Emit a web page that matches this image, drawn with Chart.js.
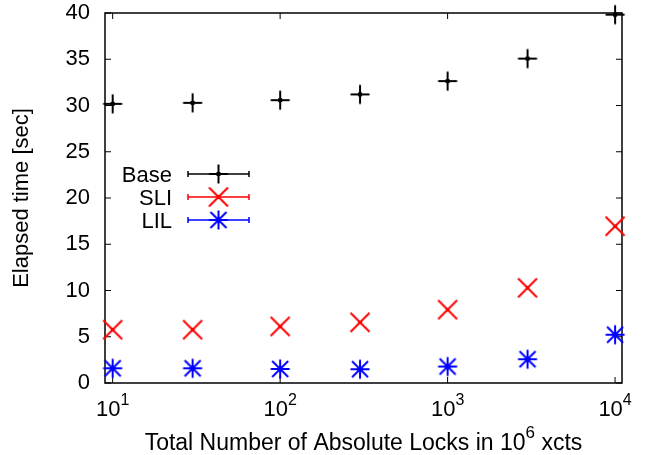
<!DOCTYPE html>
<html>
<head>
<meta charset="utf-8">
<script src="https://cdn.jsdelivr.net/npm/chart.js@4/dist/chart.umd.min.js"></script>
<style>
  html, body { margin: 0; padding: 0; background: #fff; }
  canvas { display: block; }
</style>
</head>
<body>
<canvas id="locks" width="645" height="455"></canvas>
<script>
// elapsed time vs. absolute lock count (10^6 transactions)
const xcts = [10, 30, 100, 300, 1000, 3000, 10000];
const baseTime = [30.18, 30.29, 30.58, 31.2, 32.64, 35.07, 39.82];
const sliTime = [5.76, 5.76, 6.12, 6.56, 7.93, 10.29, 16.95];
const lilTime = [1.59, 1.59, 1.52, 1.49, 1.78, 2.57, 5.22];
const seriesNames = ['Base', 'SLI', 'LIL'];
const seriesColors = ['#000000', '#ff0000', '#0000ff'];
const decades = [10, 100, 1000, 10000];

const FONT = '"Liberation Sans", Arial, Helvetica, sans-serif';

// gnuplot-like point glyphs: plus, cross, star
function marker(kind, color) {
  const c = document.createElement('canvas');
  c.width = 24; c.height = 24;
  const g = c.getContext('2d');
  const m = 12;
  g.strokeStyle = color;
  g.fillStyle = color;
  g.lineWidth = 2;
  g.beginPath();
  if (kind === 'plus' || kind === 'star') {
    g.moveTo(m - 9.5, m); g.lineTo(m + 9.5, m);
    g.moveTo(m, m - 9.5); g.lineTo(m, m + 9.5);
  }
  if (kind === 'cross') {
    g.moveTo(m - 9.5, m - 9.5); g.lineTo(m + 9.5, m + 9.5);
    g.moveTo(m - 9.5, m + 9.5); g.lineTo(m + 9.5, m - 9.5);
  }
  if (kind === 'star') {
    g.moveTo(m - 8, m - 8); g.lineTo(m + 8, m + 8);
    g.moveTo(m - 8, m + 8); g.lineTo(m + 8, m - 8);
  }
  g.stroke();
  g.fillRect(m - 2, m - 2, 4, 4);
  return c;
}

const glyphs = [marker('plus', seriesColors[0]), marker('cross', seriesColors[1]), marker('star', seriesColors[2])];

function points(ys) {
  return xcts.map((x, i) => ({ x: x, y: ys[i] }));
}

// border, inward tics, x labels with superscripts
const frame = {
  id: 'frame',
  beforeDatasetsDraw(chart) {
    const { ctx, chartArea: a, scales } = chart;
    ctx.save();
    ctx.strokeStyle = '#000';
    ctx.lineWidth = 1;
    ctx.beginPath();
    scales.y.ticks.forEach(t => {
      const y = scales.y.getPixelForValue(t.value);
      ctx.moveTo(a.left, y); ctx.lineTo(a.left + 6, y);
      ctx.moveTo(a.right, y); ctx.lineTo(a.right - 6, y);
    });
    decades.forEach(v => {
      const x = scales.x.getPixelForValue(v);
      ctx.moveTo(x, a.bottom); ctx.lineTo(x, a.bottom - 6);
      ctx.moveTo(x, a.top); ctx.lineTo(x, a.top + 6);
    });
    ctx.stroke();
    ctx.lineWidth = 1.5;
    ctx.strokeRect(a.left, a.top, a.right - a.left, a.bottom - a.top);

    ctx.fillStyle = '#000';
    ctx.textBaseline = 'alphabetic';
    ctx.textAlign = 'left';
    decades.forEach(v => {
      const x = scales.x.getPixelForValue(v);
      const exp = String(Math.round(Math.log10(v)));
      ctx.font = '22px ' + FONT;
      const w1 = ctx.measureText('10').width;
      ctx.font = '16px ' + FONT;
      const w2 = ctx.measureText(exp).width;
      const x0 = x - (w1 + w2) / 2;
      ctx.font = '22px ' + FONT;
      ctx.fillText('10', x0, 416);
      ctx.font = '16px ' + FONT;
      ctx.fillText(exp, x0 + w1, 405);
    });

    const pre = 'Total Number of Absolute Locks in 10';
    const sup = '6';
    const post = ' xcts';
    ctx.font = '23px ' + FONT;
    const wPre = ctx.measureText(pre).width;
    const wPost = ctx.measureText(post).width;
    ctx.font = '17px ' + FONT;
    const wSup = ctx.measureText(sup).width;
    let tx = (a.left + a.right) / 2 - (wPre + wSup + wPost) / 2;
    ctx.font = '23px ' + FONT;
    ctx.fillText(pre, tx, 450);
    ctx.font = '17px ' + FONT;
    ctx.fillText(sup, tx + wPre, 438);
    ctx.font = '23px ' + FONT;
    ctx.fillText(post, tx + wPre + wSup, 450);
    ctx.restore();
  },
  afterDatasetsDraw(chart) {
    const { ctx } = chart;
    ctx.save();
    ctx.font = '22px ' + FONT;
    ctx.textAlign = 'right';
    ctx.textBaseline = 'alphabetic';
    chart.data.datasets.forEach((ds, i) => {
      const y = 174 + i * 23;
      ctx.fillStyle = '#000';
      ctx.fillText(ds.label, 172, y + 8);
      ctx.strokeStyle = ds.borderColor;
      ctx.lineWidth = 1.5;
      ctx.beginPath();
      ctx.moveTo(188, y); ctx.lineTo(249, y);
      ctx.moveTo(188, y - 3); ctx.lineTo(188, y + 3);
      ctx.moveTo(249, y - 3); ctx.lineTo(249, y + 3);
      ctx.stroke();
      const g = ds.pointStyle;
      ctx.drawImage(g, 218.5 - g.width / 2, y - g.height / 2);
    });
    ctx.restore();
  }
};

new Chart(document.getElementById('locks'), {
  type: 'scatter',
  data: {
    datasets: [baseTime, sliTime, lilTime].map((ys, i) => ({
      label: seriesNames[i],
      data: points(ys),
      borderColor: seriesColors[i],
      backgroundColor: seriesColors[i],
      pointStyle: glyphs[i],
      pointRadius: 9,
      clip: false
    }))
  },
  options: {
    responsive: false,
    animation: false,
    events: [],
    layout: { padding: { left: 0, right: 23, top: 13, bottom: 72 } },
    plugins: {
      legend: { display: false },
      tooltip: { enabled: false }
    },
    scales: {
      x: {
        type: 'logarithmic',
        min: 9,
        max: 11000,
        display: false
      },
      y: {
        min: 0,
        max: 40,
        afterFit(scale) {
          scale.width = 105;
          scale.paddingTop = 0;
          scale.paddingBottom = 0;
        },
        grid: { display: false, drawTicks: false },
        border: { display: false },
        ticks: {
          stepSize: 5,
          padding: 15,
          color: '#000',
          font: { family: FONT, size: 22 }
        },
        title: {
          display: true,
          text: 'Elapsed time [sec]',
          color: '#000',
          padding: { top: 9, bottom: 0 },
          font: { family: FONT, size: 22 }
        }
      }
    }
  },
  plugins: [frame]
});
</script>
</body>
</html>
